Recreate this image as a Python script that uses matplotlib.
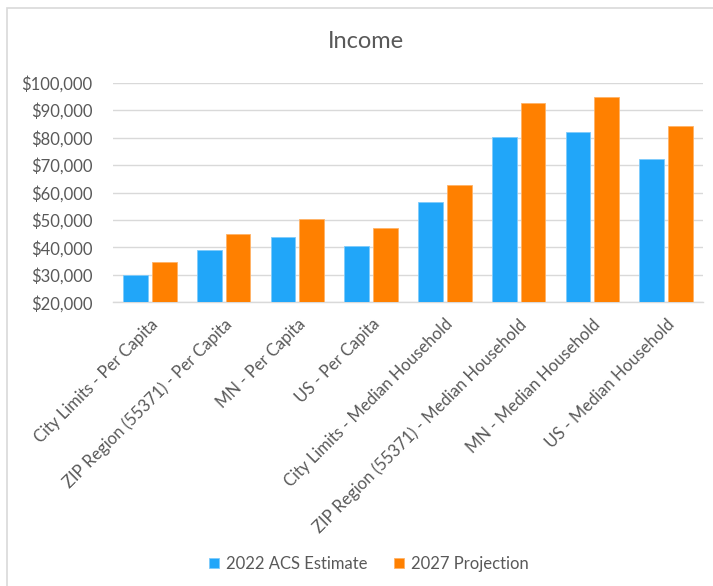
import matplotlib
matplotlib.use("Agg")
import matplotlib.pyplot as plt
from matplotlib.patches import Rectangle
from matplotlib.ticker import FuncFormatter
import numpy as np

categories = [
    "City Limits - Per Capita",
    "ZIP Region (55371) - Per Capita",
    "MN - Per Capita",
    "US - Per Capita",
    "City Limits - Median Household",
    "ZIP Region (55371) - Median Household",
    "MN - Median Household",
    "US - Median Household",
]
acs_2022 = [29900, 39200, 43700, 40400, 56400, 80200, 81900, 72200]
proj_2027 = [34700, 45000, 50300, 47100, 62600, 92600, 94700, 84300]
series_names = ["2022 ACS Estimate", "2027 Projection"]
yticks = [20000, 30000, 40000, 50000, 60000, 70000, 80000, 90000, 100000]

plt.rcParams['font.family'] = ['Lato', 'DejaVu Sans']
TXT = '#595959'
BLUE = '#21A6F9'
ORANGE = '#FF8000'

W, H = 713, 586
fig = plt.figure(figsize=(W / 100, H / 100), dpi=100)
fig.patch.set_facecolor('white')

# chart border (extends beyond the bottom/right of the image)
fig.patches.append(Rectangle((6.5 / W, -0.1), 2.0, 1.1 - 8 / H, transform=fig.transFigure,
                             fill=False, edgecolor='#D9D9D9', linewidth=1.2))

ax = fig.add_axes([113 / W, 1 - 302.3 / H, (703 - 113) / W, (302.3 - 82.7) / H])
x = np.arange(len(categories))
bw = 0.335
off = 0.195
ax.bar(x - off, acs_2022, bw, color=BLUE, edgecolor='#7FCBFB', linewidth=0.6,
       label=series_names[0], zorder=3)
ax.bar(x + off, proj_2027, bw, color=ORANGE, edgecolor='#FFB266', linewidth=0.6,
       label=series_names[1], zorder=3)

ax.set_xlim(-0.5, len(categories) - 0.5)
ax.set_ylim(20000, 100000)
ax.set_yticks(yticks)
ax.yaxis.set_major_formatter(FuncFormatter(lambda v, p: f"${v:,.0f}"))
ax.grid(axis='y', color='#D9D9D9', linewidth=1.0, zorder=0)
for s in ['top', 'right', 'left']:
    ax.spines[s].set_visible(False)
ax.spines['bottom'].set_color('#D9D9D9')
ax.spines['bottom'].set_linewidth(1.0)
ax.tick_params(axis='both', length=0, colors=TXT, labelsize=12)
ax.tick_params(axis='y', pad=15)
ax.set_xticks(x)
ax.set_xticklabels(categories, rotation=45, ha='right', va='top', rotation_mode='anchor')
ax.tick_params(axis='x', pad=10)

fig.text(366 / W, 1 - 42 / H, "Income", ha='center', va='center', fontsize=17, color=TXT)

leg = fig.legend(loc='center', bbox_to_anchor=(369 / W, 1 - 564 / H), ncol=2, frameon=False,
                 fontsize=12, handlelength=0.6, handleheight=0.6, handletextpad=0.4,
                 columnspacing=1.6)
for t in leg.get_texts():
    t.set_color(TXT)

fig.savefig('out.png', dpi=100, facecolor='white')
